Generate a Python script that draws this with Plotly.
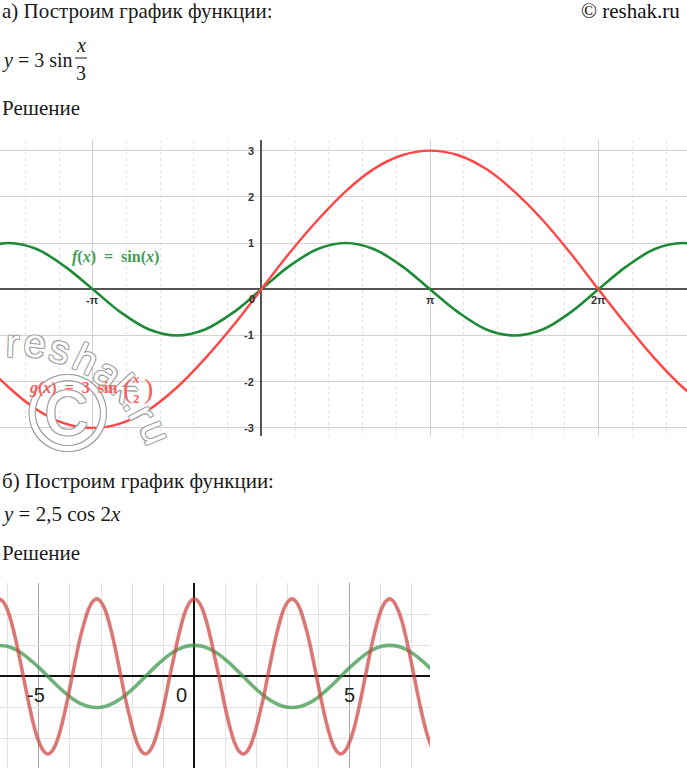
import plotly.graph_objects as go

W, H = 687, 768
PI = 3.14159265

# ---------- chart а): f(x)=sin(x) (green), g(x)=3 sin(x/2) (red) ----------
xa = [-5.24, -4.71, -4.19, -3.67, -3.14, -2.62, -2.09, -1.57, -1.05, -0.52, 0,
      0.52, 1.05, 1.57, 2.09, 2.62, 3.14, 3.67, 4.19, 4.71, 5.24, 5.76, 6.28,
      6.81, 7.33, 7.85, 8.38]
f_green = [0.87, 1, 0.87, 0.5, 0, -0.5, -0.87, -1, -0.87, -0.5, 0,
           0.5, 0.87, 1, 0.87, 0.5, 0, -0.5, -0.87, -1, -0.87, -0.5, 0,
           0.5, 0.87, 1, 0.87]
g_red = [-1.5, -2.12, -2.6, -2.9, -3, -2.9, -2.6, -2.12, -1.5, -0.78, 0,
         0.78, 1.5, 2.12, 2.6, 2.9, 3, 2.9, 2.6, 2.12, 1.5, 0.78, 0,
         -0.78, -1.5, -2.12, -2.6]
xa_tick_vals = [-PI, PI, 2 * PI]
xa_tick_text = ["-π", "π", "2π"]
ya_tick_vals = [3, 2, 1, -1, -2, -3]

# ---------- chart б): cos(x) (green), 2.5 cos(2x) (red) ----------
xb_green = [-6.28, -6.02, -5.76, -5.50, -5.24, -4.97, -4.71, -4.45, -4.19, -3.93, -3.67, -3.40,
            -3.14, -2.88, -2.62, -2.36, -2.09, -1.83, -1.57, -1.31, -1.05, -0.79, -0.52, -0.26,
            0, 0.26, 0.52, 0.79, 1.05, 1.31, 1.57, 1.83, 2.09, 2.36, 2.62, 2.88,
            3.14, 3.40, 3.67, 3.93, 4.19, 4.45, 4.71, 4.97, 5.24, 5.50, 5.76, 6.02,
            6.28, 6.54, 6.81, 7.07, 7.33, 7.59, 7.85]
b_green = [1, 0.97, 0.87, 0.71, 0.5, 0.26, 0, -0.26, -0.5, -0.71, -0.87, -0.97,
           -1, -0.97, -0.87, -0.71, -0.5, -0.26, 0, 0.26, 0.5, 0.71, 0.87, 0.97,
           1, 0.97, 0.87, 0.71, 0.5, 0.26, 0, -0.26, -0.5, -0.71, -0.87, -0.97,
           -1, -0.97, -0.87, -0.71, -0.5, -0.26, 0, 0.26, 0.5, 0.71, 0.87, 0.97,
           1, 0.97, 0.87, 0.71, 0.5, 0.26, 0]
xb_red = [-6.28, -6.15, -6.02, -5.89, -5.76, -5.63, -5.50, -5.37, -5.24, -5.11,
          -4.97, -4.84, -4.71, -4.58, -4.45, -4.32, -4.19, -4.06, -3.93, -3.80,
          -3.67, -3.53, -3.40, -3.27, -3.14, -3.01, -2.88, -2.75, -2.62, -2.49,
          -2.36, -2.23, -2.09, -1.96, -1.83, -1.70, -1.57, -1.44, -1.31, -1.18,
          -1.05, -0.92, -0.79, -0.65, -0.52, -0.39, -0.26, -0.13, 0,
          0.13, 0.26, 0.39, 0.52, 0.65, 0.79, 0.92, 1.05, 1.18, 1.31,
          1.44, 1.57, 1.70, 1.83, 1.96, 2.09, 2.23, 2.36, 2.49, 2.62,
          2.75, 2.88, 3.01, 3.14, 3.27, 3.40, 3.53, 3.67, 3.80, 3.93,
          4.06, 4.19, 4.32, 4.45, 4.58, 4.71, 4.84, 4.97, 5.11, 5.24,
          5.37, 5.50, 5.63, 5.76, 5.89, 6.02, 6.15, 6.28, 6.41, 6.54,
          6.68, 6.81, 6.94, 7.07, 7.20, 7.33, 7.46, 7.59, 7.72, 7.85]
b_red = [2.5, 2.41, 2.17, 1.77, 1.25, 0.65, 0, -0.65, -1.25, -1.77, -2.17, -2.41,
         -2.5, -2.41, -2.17, -1.77, -1.25, -0.65, 0, 0.65, 1.25, 1.77, 2.17, 2.41,
         2.5, 2.41, 2.17, 1.77, 1.25, 0.65, 0, -0.65, -1.25, -1.77, -2.17, -2.41,
         -2.5, -2.41, -2.17, -1.77, -1.25, -0.65, 0, 0.65, 1.25, 1.77, 2.17, 2.41,
         2.5, 2.41, 2.17, 1.77, 1.25, 0.65, 0, -0.65, -1.25, -1.77, -2.17, -2.41,
         -2.5, -2.41, -2.17, -1.77, -1.25, -0.65, 0, 0.65, 1.25, 1.77, 2.17, 2.41,
         2.5, 2.41, 2.17, 1.77, 1.25, 0.65, 0, -0.65, -1.25, -1.77, -2.17, -2.41,
         -2.5, -2.41, -2.17, -1.77, -1.25, -0.65, 0, 0.65, 1.25, 1.77, 2.17, 2.41,
         2.5, 2.41, 2.17, 1.77, 1.25, 0.65, 0, -0.65, -1.25, -1.77, -2.17, -2.41, -2.5]
xb_tick_vals = [-5, 0, 5]
xb_tick_text = ["-5", "0", "5"]


def px(x):
    return x / W


def py(y):
    return 1 - y / H


fig = go.Figure()
fig.add_trace(go.Scatter(x=xa, y=f_green, mode="lines", xaxis="x", yaxis="y",
                         line=dict(color="#1d8a36", width=2.6, shape="spline"), hoverinfo="skip"))
fig.add_trace(go.Scatter(x=xa, y=g_red, mode="lines", xaxis="x", yaxis="y",
                         line=dict(color="#ff4545", width=2.4, shape="spline"), hoverinfo="skip"))
fig.add_trace(go.Scatter(x=xb_green, y=b_green, mode="lines", xaxis="x2", yaxis="y2",
                         line=dict(color="rgba(56,150,70,0.72)", width=3.6, shape="spline"), hoverinfo="skip"))
fig.add_trace(go.Scatter(x=xb_red, y=b_red, mode="lines", xaxis="x2", yaxis="y2",
                         line=dict(color="rgba(205,68,64,0.72)", width=3.6, shape="spline"), hoverinfo="skip"))

serif = "Liberation Serif"
sans = "Liberation Sans"
ann = []


def text(x, y, t, size=21, family=serif, color="#1a1a1a", xanchor="left", **kw):
    ann.append(dict(x=px(x), y=py(y), xref="paper", yref="paper", text=t, showarrow=False,
                    xanchor=xanchor, yanchor="middle", font=dict(size=size, family=family, color=color), **kw))


# watermark first (outlined letters on an arc), so that labels stay on top
outline = "1px 1px 0 #a0a0a0, -1px -1px 0 #a0a0a0, 1px -1px 0 #a0a0a0, -1px 1px 0 #a0a0a0"
wm = [("r", 12, 343, 2), ("e", 35, 343, 6), ("s", 60, 349, 14), ("h", 86, 359, 26),
      ("a", 108, 373, 37), ("k", 126, 388, 47), (".", 136, 401, 55), ("r", 143, 413, 62),
      ("u", 156, 432, 68)]
for ch, x, y, ang in wm:
    ann.append(dict(x=px(x), y=py(y), xref="paper", yref="paper", text=ch, showarrow=False,
                    textangle=ang, xanchor="center", yanchor="middle",
                    font=dict(size=40, family=sans, color="white", shadow=outline)))
ann.append(dict(x=px(68), y=py(412), xref="paper", yref="paper", text="©", showarrow=False,
                xanchor="center", yanchor="middle",
                font=dict(size=108, family=sans, color="white", shadow=outline)))

# page text
text(0, 11, "а) Построим график функции:")
text(682, 11, "© reshak.ru", xanchor="right", color="#111")
text(0, 60, "<i>y</i> = 3 sin", size=20)
text(81, 45, "<i>x</i>", xanchor="center", size=20)
text(81, 73, "3", xanchor="center", size=20)
text(0, 108, "Решение")
text(0, 481, "б) Построим график функции:")
text(0, 514, "<i>y</i> = 2,5 cos 2<i>x</i>")
text(0, 553, "Решение")

# chart а) tick labels
tick_font_a = dict(size=11, family=sans, color="#333")
for v, t in zip(xa_tick_vals, xa_tick_text):
    ann.append(dict(x=v, y=0, xref="x", yref="y", text="<b>" + t + "</b>", showarrow=False,
                    xanchor="center", yanchor="top", yshift=-3, font=tick_font_a))
for v in ya_tick_vals:
    ann.append(dict(x=0, y=v, xref="x", yref="y", text="<b>" + str(v) + "</b>", showarrow=False,
                    xanchor="right", yanchor="middle", xshift=-5, font=tick_font_a))
ann.append(dict(x=0, y=0, xref="x", yref="y", text="<b>0</b>", showarrow=False,
                xanchor="right", yanchor="top", xshift=-4, yshift=-2, font=tick_font_a))

# chart а) function labels
text(70, 257, "<b><i>f</i>(<i>x</i>)  =  sin(<i>x</i>)</b>", size=16, color="#3c9e55")
text(27, 388, "<b><i>g</i>(<i>x</i>)  =  3  sin</b>", size=16, color="#ff5a5a")
text(127, 388, "(", size=28, color="#ff5a5a", xanchor="center")
text(136, 379, "<b><i>x</i></b>", size=13, color="#ff5a5a", xanchor="center")
text(136, 398, "<b>2</b>", size=13, color="#ff5a5a", xanchor="center")
text(148, 388, ")", size=28, color="#ff5a5a", xanchor="center")

# chart б) tick labels
tick_font_b = dict(size=20, family=sans, color="#222")
for v, t in zip(xb_tick_vals, xb_tick_text):
    if v == 0:
        ann.append(dict(x=v, y=0, xref="x2", yref="y2", text=t, showarrow=False,
                        xanchor="right", yanchor="top", xshift=-5, yshift=-6, font=tick_font_b))
    else:
        ann.append(dict(x=v, y=0, xref="x2", yref="y2", text=t, showarrow=False,
                        xanchor="center", yanchor="top", xshift=-3 if v < 0 else 0, yshift=-6, font=tick_font_b))

shapes = [dict(type="line", xref="paper", yref="paper", x0=px(75), x1=px(87), y0=py(58), y1=py(58),
               line=dict(color="#1a1a1a", width=1))]

axis_common = dict(showticklabels=False, ticks="", showline=False, fixedrange=True)
fig.update_layout(
    width=W, height=H, margin=dict(l=0, r=0, t=0, b=0),
    paper_bgcolor="white", plot_bgcolor="white", showlegend=False,
    xaxis=dict(domain=[0, 1], anchor="y", range=[-4.87, 7.93], tick0=0, dtick=PI,
               showgrid=True, gridcolor="#d2d2d2", gridwidth=1,
               minor=dict(tick0=0, dtick=PI / 5, showgrid=True, gridcolor="#e4e4e4", griddash="dot", gridwidth=1),
               zeroline=True, zerolinecolor="#555555", zerolinewidth=2, **axis_common),
    yaxis=dict(domain=[py(436), py(140)], anchor="x", range=[-3.175, 3.23], tick0=0, dtick=1,
               showgrid=True, gridcolor="#d2d2d2", gridwidth=1,
               zeroline=True, zerolinecolor="#555555", zerolinewidth=1.6, **axis_common),
    xaxis2=dict(domain=[0, 430 / W], anchor="y2", range=[-6.25, 7.58], tick0=0, dtick=5,
                showgrid=True, gridcolor="#a5a5a5", gridwidth=1,
                minor=dict(tick0=0, dtick=1, showgrid=True, gridcolor="#e2e2e2", gridwidth=1),
                zeroline=True, zerolinecolor="#111111", zerolinewidth=2, **axis_common),
    yaxis2=dict(domain=[0, py(583)], anchor="x2", range=[-2.95, 3.01], tick0=0, dtick=1,
                showgrid=True, gridcolor="#e2e2e2", gridwidth=1,
                zeroline=True, zerolinecolor="#111111", zerolinewidth=2, **axis_common),
    annotations=ann, shapes=shapes,
)

fig.write_html("out.html", config={"displayModeBar": False},
               post_script="document.body.style.margin='0';")
